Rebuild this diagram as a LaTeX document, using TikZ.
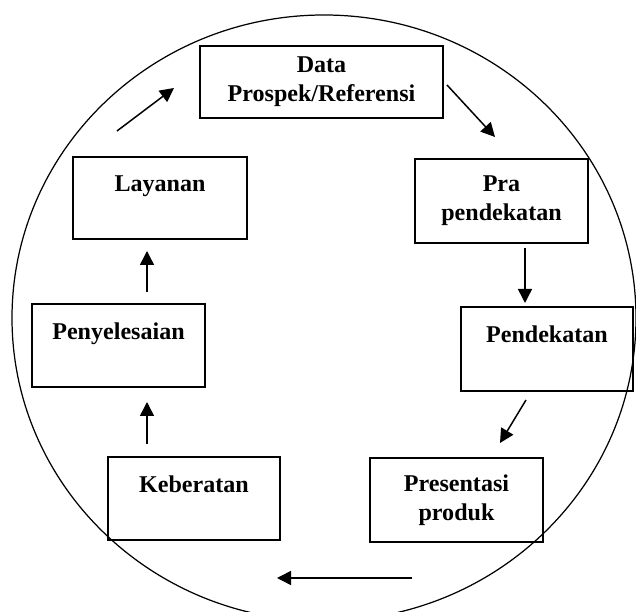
\documentclass[tikz,border=0pt]{standalone}
\usepackage{fontspec}
\setmainfont{Liberation Serif}
\usetikzlibrary{arrows.meta}

\begin{document}
\begin{tikzpicture}[
  stagebox/.style={draw, line width=0.75pt, align=center, inner sep=0pt,
    font=\bfseries\fontsize{13.7}{16.5}\selectfont},
  flowarrow/.style={line width=0.85pt, -{Triangle[length=0.28cm,width=0.28cm]}}
]
\useasboundingbox (0,0) rectangle (12.72,12.24);
% Circle
\draw[line width=0.7pt] (6.48,5.88) ellipse [x radius=6.24, y radius=6.06];
% Stages
\node[stagebox, minimum width=4.86cm, minimum height=1.44cm] (data) at (6.43,10.60) {Data\\Prospek/Referensi};
\node[stagebox, minimum width=3.46cm, minimum height=1.68cm] (pra) at (10.03,8.22) {Pra\\pendekatan};
\node[stagebox, minimum width=3.44cm, minimum height=1.68cm] (pendekatan) at (10.94,5.26) {Pendekatan\\~};
\node[stagebox, minimum width=3.46cm, minimum height=1.68cm] (presentasi) at (9.13,2.24) {Presentasi\\produk};
\node[stagebox, minimum width=3.44cm, minimum height=1.66cm] (keberatan) at (3.88,2.27) {Keberatan\\~};
\node[stagebox, minimum width=3.46cm, minimum height=1.66cm] (penyelesaian) at (2.37,5.33) {Penyelesaian\\~};
\node[stagebox, minimum width=3.48cm, minimum height=1.64cm] (layanan) at (3.20,8.28) {Layanan\\~};
% Arrow ends
\coordinate (a1s) at (8.94,10.54);  \coordinate (a1e) at (9.90,9.50);
\coordinate (a2s) at (10.50,7.28);  \coordinate (a2e) at (10.50,6.18);
\coordinate (a3s) at (10.52,4.24);  \coordinate (a3e) at (10.00,3.38);
\coordinate (a4s) at (8.24,0.68);   \coordinate (a4e) at (5.54,0.68);
\coordinate (a5s) at (2.94,3.36);   \coordinate (a5e) at (2.94,4.20);
\coordinate (a6s) at (2.94,6.40);   \coordinate (a6e) at (2.94,7.22);
\coordinate (a7s) at (2.34,9.62);   \coordinate (a7e) at (3.48,10.48);
% Arrows
\draw[flowarrow] (a1s) -- (a1e);
\draw[flowarrow] (a2s) -- (a2e);
\draw[flowarrow] (a3s) -- (a3e);
\draw[flowarrow] (a4s) -- (a4e);
\draw[flowarrow] (a5s) -- (a5e);
\draw[flowarrow] (a6s) -- (a6e);
\draw[flowarrow] (a7s) -- (a7e);
\end{tikzpicture}
\end{document}
